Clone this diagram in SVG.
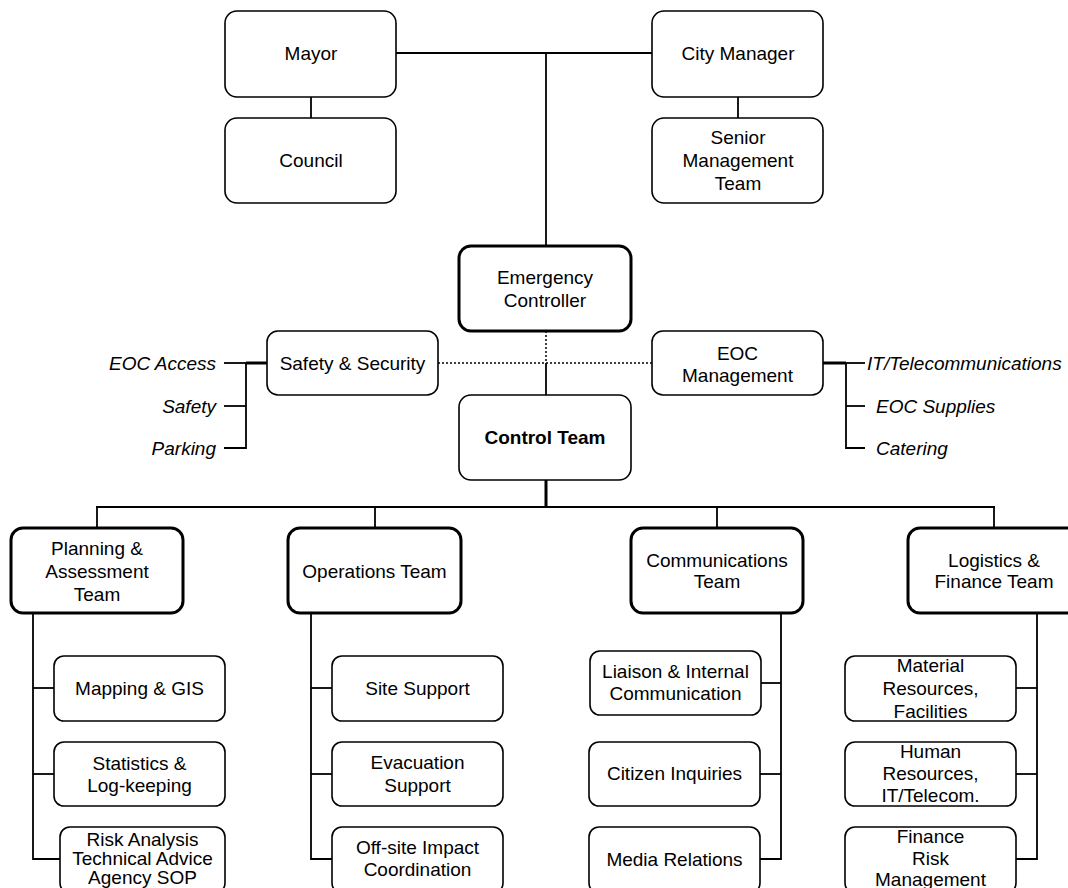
<svg xmlns="http://www.w3.org/2000/svg" width="1068" height="888" viewBox="0 0 1068 888">
<style>
rect{fill:#fff;stroke:#000;stroke-width:1.6}
rect.thick{stroke-width:3}
text{font-family:"Liberation Sans",Arial,sans-serif;font-size:19px;fill:#000;text-anchor:middle}
text.it{font-style:italic}
text.end{text-anchor:end}
text.start{text-anchor:start}
text.b{font-weight:bold}
#connectors line,#connectors path{stroke:#000;stroke-width:1.8;fill:none}
#connectors .thick{stroke-width:3}
#connectors .dot{stroke-dasharray:2 2;stroke-width:1.5}
</style>
<rect x="0" y="0" width="1068" height="888" style="fill:#fff;stroke:none"/>
<g id="connectors">
<line x1="396" y1="53" x2="652" y2="53"/>
<line x1="546" y1="53" x2="546" y2="246"/>
<line x1="311" y1="97" x2="311" y2="118"/>
<line x1="738" y1="97" x2="738" y2="118"/>
<line class="dot" x1="438" y1="363" x2="652" y2="363"/>
<line class="dot" x1="546" y1="331" x2="546" y2="363"/>
<line x1="546" y1="363" x2="546" y2="395"/>
<line class="thick" x1="246" y1="363" x2="267" y2="363"/>
<line x1="224" y1="363" x2="246" y2="363"/>
<line x1="224" y1="406" x2="246" y2="406"/>
<path d="M246 363 V448 H224"/>
<line class="thick" x1="823" y1="363" x2="846" y2="363"/>
<line x1="846" y1="363" x2="865" y2="363"/>
<line x1="846" y1="406" x2="865" y2="406"/>
<path d="M846 363 V448 H865"/>
<line class="thick" x1="546" y1="480" x2="546" y2="507"/>
<line x1="96" y1="507" x2="995" y2="507"/>
<line x1="97" y1="507" x2="97" y2="528"/>
<line x1="375" y1="507" x2="375" y2="528"/>
<line x1="717" y1="507" x2="717" y2="528"/>
<line x1="994" y1="507" x2="994" y2="528"/>
<path d="M33 613 V859 H60"/>
<line x1="33" y1="688" x2="54" y2="688"/>
<line x1="33" y1="774" x2="54" y2="774"/>
<path d="M311 613 V859 H332"/>
<line x1="311" y1="688" x2="332" y2="688"/>
<line x1="311" y1="774" x2="332" y2="774"/>
<path d="M781 613 V859 H760"/>
<line x1="781" y1="683" x2="761" y2="683"/>
<line x1="781" y1="774" x2="760" y2="774"/>
<path d="M1037 613 V859 H1016"/>
<line x1="1037" y1="688" x2="1016" y2="688"/>
<line x1="1037" y1="774" x2="1016" y2="774"/>
</g>
<g id="mayor"><rect x="225" y="11" width="171" height="86" rx="12"/><text x="311" y="59.5">Mayor</text></g>
<g id="council"><rect x="225" y="118" width="171" height="85" rx="12"/><text x="311" y="166.5">Council</text></g>
<g id="city-manager"><rect x="652" y="11" width="171" height="86" rx="12"/><text x="738" y="59.5">City Manager</text></g>
<g id="senior-management"><rect x="652" y="118" width="171" height="85" rx="12"/><text x="738" y="143.5">Senior</text><text x="738" y="166.5">Management</text><text x="738" y="189.5">Team</text></g>
<g id="emergency-controller"><rect class="thick" x="459" y="246" width="172" height="85" rx="12"/><text x="545" y="283.5">Emergency</text><text x="545" y="306.5">Controller</text></g>
<g id="safety-security"><rect x="267" y="331" width="171" height="64" rx="11"/><text x="352.5" y="369.5">Safety &amp; Security</text></g>
<g id="eoc-management"><rect x="652" y="331" width="171" height="64" rx="11"/><text x="737.5" y="359.5">EOC</text><text x="737.5" y="381.5">Management</text></g>
<g id="safety-items"><text class="it end" x="216" y="369.5">EOC Access</text><text class="it end" x="216" y="412.5">Safety</text><text class="it end" x="216" y="454.5">Parking</text></g>
<g id="eoc-items"><text class="it start" x="867" y="369.5">IT/Telecommunications</text><text class="it start" x="876" y="412.5">EOC Supplies</text><text class="it start" x="876" y="454.5">Catering</text></g>
<g id="control-team"><rect x="459" y="395" width="172" height="85" rx="12"/><text class="b" x="545" y="443.5">Control Team</text></g>
<g id="planning"><rect class="thick" x="11" y="528" width="172" height="85" rx="12"/><text x="97" y="554.5">Planning &amp;</text><text x="97" y="577.5">Assessment</text><text x="97" y="600.5">Team</text></g>
<g id="operations"><rect class="thick" x="288" y="528" width="173" height="85" rx="12"/><text x="374.5" y="577.5">Operations Team</text></g>
<g id="communications"><rect class="thick" x="631" y="528" width="172" height="85" rx="12"/><text x="717" y="566.5">Communications</text><text x="717" y="587.5">Team</text></g>
<g id="logistics"><rect class="thick" x="908" y="528" width="172" height="85" rx="12"/><text x="994" y="566.5">Logistics &amp;</text><text x="994" y="587.5">Finance Team</text></g>
<g id="mapping"><rect x="54" y="656" width="171" height="65" rx="10"/><text x="139.5" y="694.5">Mapping &amp; GIS</text></g>
<g id="statistics"><rect x="54" y="742" width="171" height="64" rx="10"/><text x="139.5" y="769.5">Statistics &amp;</text><text x="139.5" y="791.5">Log-keeping</text></g>
<g id="risk"><rect x="60" y="827" width="165" height="66" rx="10"/><text x="142.5" y="845.5">Risk Analysis</text><text x="142.5" y="864.5">Technical Advice</text><text x="142.5" y="883.5">Agency SOP</text></g>
<g id="site-support"><rect x="332" y="656" width="171" height="65" rx="10"/><text x="417.5" y="694.5">Site Support</text></g>
<g id="evacuation"><rect x="332" y="742" width="171" height="64" rx="10"/><text x="417.5" y="768.5">Evacuation</text><text x="417.5" y="791.5">Support</text></g>
<g id="offsite"><rect x="332" y="827" width="171" height="66" rx="10"/><text x="417.5" y="853.5">Off-site Impact</text><text x="417.5" y="875.5">Coordination</text></g>
<g id="liaison"><rect x="590" y="651" width="171" height="64" rx="10"/><text x="675.5" y="677.5">Liaison &amp; Internal</text><text x="675.5" y="699.5">Communication</text></g>
<g id="citizen"><rect x="589" y="742" width="171" height="64" rx="10"/><text x="674.5" y="780">Citizen Inquiries</text></g>
<g id="media"><rect x="589" y="827" width="171" height="66" rx="10"/><text x="674.5" y="865.5">Media Relations</text></g>
<g id="material"><rect x="845" y="656" width="171" height="65" rx="10"/><text x="930.5" y="671.5">Material</text><text x="930.5" y="694.5">Resources,</text><text x="930.5" y="717.5">Facilities</text></g>
<g id="human"><rect x="845" y="742" width="171" height="64" rx="10"/><text x="930.5" y="757.5">Human</text><text x="930.5" y="779.5">Resources,</text><text x="930.5" y="801.5">IT/Telecom.</text></g>
<g id="finance"><rect x="845" y="827" width="171" height="66" rx="10"/><text x="930.5" y="842.5">Finance</text><text x="930.5" y="864.5">Risk</text><text x="930.5" y="885.5">Management</text></g>
</svg>
